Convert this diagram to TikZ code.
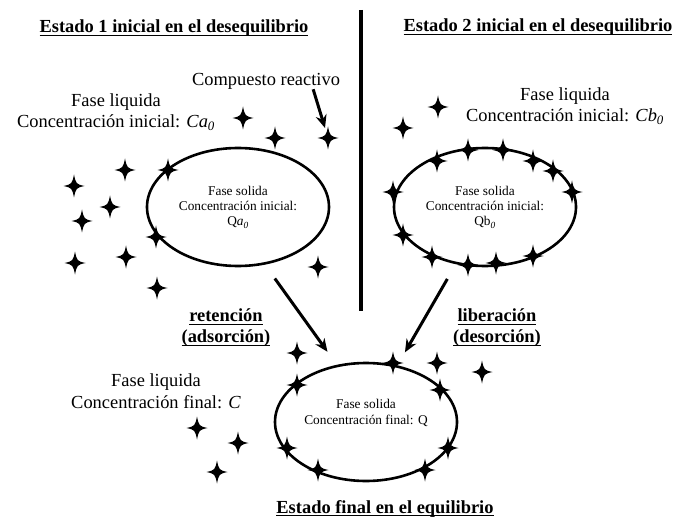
\documentclass[tikz,border=0pt]{standalone}
\usepackage{fontspec}
\setmainfont{Liberation Serif}
\usetikzlibrary{arrows.meta,shapes.geometric,positioning}

\newcommand{\stageul}[1]{\setbox0\hbox{#1}\rlap{\rule[-3.2bp]{\wd0}{1.4bp}}\box0}

\tikzset{
  solidphase/.style={draw, ellipse, line width=2.6bp, minimum width=182bp, minimum height=118bp,
    inner sep=0pt, align=center, font=\fontsize{13.4}{15.5}\selectfont},
  phasetext/.style={inner sep=0pt, align=center, font=\fontsize{18.5}{22}\selectfont},
  stagetitle/.style={inner sep=0pt, align=center, font=\fontsize{18.5}{21}\selectfont\bfseries},
  flow/.style={line width=3bp, -{Stealth[length=13bp,width=11bp]}}
}

\begin{document}
\begin{tikzpicture}[x=1bp, y=-1bp,
              sparkle/.pic = {\fill (0,-11.5) .. controls (2,-2) .. (10.5,0) .. controls (2,2) .. (0,11.5) .. controls (-2,2) .. (-10.5,0) .. controls (-2,-2) .. cycle;}
            ]
            \useasboundingbox (0,0) rectangle (680,518);
            \node[stagetitle, anchor=base] (titleA) at (174,33) {\stageul{Estado 1 inicial en el desequilibrio}};
            \node[stagetitle, anchor=base] (titleB) at (538,32) {\stageul{Estado 2 inicial en el desequilibrio}};
            \node[stagetitle, anchor=base] (titleC) at (385,513) {\stageul{Estado final en el equilibrio}};
            \draw[line width=3.5bp] (361,10) -- (361,311);

            \node[solidphase] (solidA) at (238,207) {Fase solida\\Concentración inicial:\\Q\textit{a}\textsubscript{\textit{0}}};
            \node[solidphase] (solidB) at (485,207) {Fase solida\\Concentración inicial:\\Qb\textsubscript{\textit{0}}};
            \node[solidphase] (solidC) at (366,422) {Fase solida\\Concentración final: Q\\\strut};

            \node[phasetext] (liquidA) at (116,112) {Fase liquida\\Concentración inicial: \textit{Ca}\textsubscript{\textit{0}}};
            \node[phasetext] (liquidB) at (565,106) {Fase liquida\\Concentración inicial: \textit{Cb}\textsubscript{\textit{0}}};
            \node[phasetext] (liquidC) at (156,391) {Fase liquida\\Concentración final: \textit{C}};
            \node[phasetext] (reactivo) at (266,81) {Compuesto reactivo};
            \coordinate (reactivoTip) at (325,128);
            \node[stagetitle] (retencion) at (226,328) {\stageul{retención}\\\stageul{(adsorción)}};
            \node[stagetitle] (liberacion) at (497,328) {\stageul{liberación}\\\stageul{(desorción)}};

            \draw[flow] ([xshift=-27bp]reactivo.south east) -- (reactivoTip);
            \draw[flow, shorten <=17bp, shorten >=16bp] (solidA.-65) -- (solidC.117);
            \draw[flow, shorten <=17bp, shorten >=15bp] (solidB.243) -- (solidC.61);

            \foreach \sx/\sy in {243/118, 275/138, 328/138, 125/170, 168/170, 74/186, 110/207, 82/221, 156/237, 75/263, 126/257, 318/267, 157/288}
              \pic at (\sx,\sy) {sparkle};
            \foreach \sx/\sy in {438/107, 403/128, 437/161, 468/150, 503/150, 533/161, 553/171, 572/192, 393/192, 403/235, 432/257, 468/265, 496/263, 533/256}
              \pic at (\sx,\sy) {sparkle};
            \foreach \sx/\sy in {297/353, 393/363, 437/363, 482/372, 297/385, 440/390, 287/448, 448/448, 318/470, 425/470, 197/428, 238/443, 217/472}
              \pic at (\sx,\sy) {sparkle};
          \end{tikzpicture}
\end{document}
